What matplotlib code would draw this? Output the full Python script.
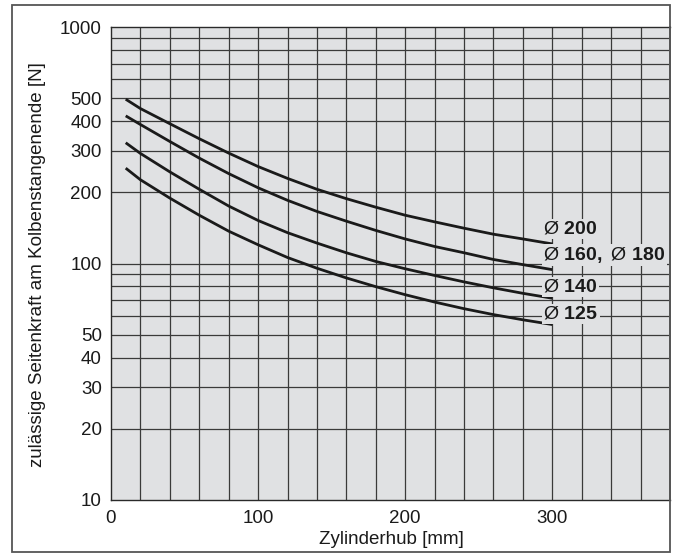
import matplotlib
matplotlib.use("Agg")
import matplotlib.pyplot as plt
from matplotlib.patches import Rectangle
import numpy as np

plt.rcParams['font.family'] = ['Liberation Sans', 'DejaVu Sans']
plt.rcParams['mathtext.fontset'] = 'custom'
plt.rcParams['mathtext.rm'] = 'Liberation Sans'
plt.rcParams['mathtext.bf'] = 'Liberation Sans:bold'

# ---- data ----
stroke_mm = [10, 20, 40, 60, 80, 100, 120, 140, 160, 180, 200, 220, 240, 260, 280, 300]
force_d200 = [495, 452, 390, 337, 293, 257, 229, 206, 188, 173, 160, 150, 141, 133, 127, 121]
force_d160_180 = [421, 387, 328, 279, 240, 209, 185, 166, 151, 138, 127, 118, 111, 104, 98.9, 94.2]
force_d140 = [324, 292, 244, 206, 175, 152, 135, 122, 111, 102, 95, 89, 83.6, 78.9, 74.8, 71.3]
force_d125 = [253, 226, 189, 160, 137, 120, 106, 95.5, 86.9, 79.8, 73.8, 68.7, 64.4, 60.8, 57.8, 55.2]

series = [force_d200, force_d160_180, force_d140, force_d125]
curve_labels = ["Ø $\\mathbf{200}$", "Ø $\\mathbf{160,}$ Ø $\\mathbf{180}$",
                "Ø $\\mathbf{140}$", "Ø $\\mathbf{125}$"]
label_y = [140, 108.7, 79.6, 61.2]

x_ticks = [0, 100, 200, 300]
y_ticks = [10, 20, 30, 40, 50, 100, 200, 300, 400, 500, 1000]

W, H = 675, 554
fig = plt.figure(figsize=(W / 100, H / 100), dpi=100)
fig.patch.set_facecolor('white')

# outer border
fig.patches.append(Rectangle((12 / W, 1 - 552 / H), (670 - 12) / W, (552 - 5) / H,
                             transform=fig.transFigure, fill=False,
                             edgecolor='#555555', linewidth=1.3, zorder=0))

left, right, top, bottom = 111 / W, 670 / W, 1 - 27 / H, 1 - 500 / H
ax = fig.add_axes([left, bottom, right - left, top - bottom])
bg = '#e0e1e3'
ax.set_facecolor(bg)
ax.set_yscale('log')
ax.set_xlim(0, 380)
ax.set_ylim(10, 1000)

# grid
for xv in np.arange(20, 380, 20):
    ax.axvline(xv, color='#3a3a3a', lw=0.9, zorder=1)
grid_y = list(range(20, 100, 10)) + list(range(100, 1000, 100))
for yv in grid_y:
    ax.axhline(yv, color='#3a3a3a', lw=0.9, zorder=1)

for s in series:
    ax.plot(stroke_mm, s, color='#1a1a1a', lw=2.0, solid_capstyle='butt',
            solid_joinstyle='round', zorder=3)

for txt, yv in zip(curve_labels, label_y):
    ax.text(294, yv, txt, fontsize=14, color='#1a1a1a', ha='left', va='center',
            zorder=4, bbox=dict(facecolor=bg, edgecolor='none', pad=1.0))

ax.set_xticks(x_ticks)
ax.set_xticklabels([str(v) for v in x_ticks])
ax.set_yticks(y_ticks)
ax.set_yticklabels([str(v) for v in y_ticks])
ax.yaxis.set_minor_locator(matplotlib.ticker.NullLocator())
ax.tick_params(axis='both', length=0, labelsize=13.5, colors='#1a1a1a')
ax.tick_params(axis='y', pad=6.5)
ax.tick_params(axis='x', pad=7)

for side in ['left', 'top', 'bottom']:
    ax.spines[side].set_color('#2a2a2a')
    ax.spines[side].set_linewidth(1.0)
ax.spines['right'].set_color('#555555')
ax.spines['right'].set_linewidth(1.3)

fig.text(38 / W, 1 - 265 / H, "zulässige Seitenkraft am Kolbenstangenende [N]",
         rotation=90, ha='center', va='center', fontsize=13.5, color='#1a1a1a')
fig.text(391 / W, 1 - 540 / H, "Zylinderhub [mm]", ha='center', va='center',
         fontsize=13.5, color='#1a1a1a')

fig.savefig("out.png", dpi=100)
